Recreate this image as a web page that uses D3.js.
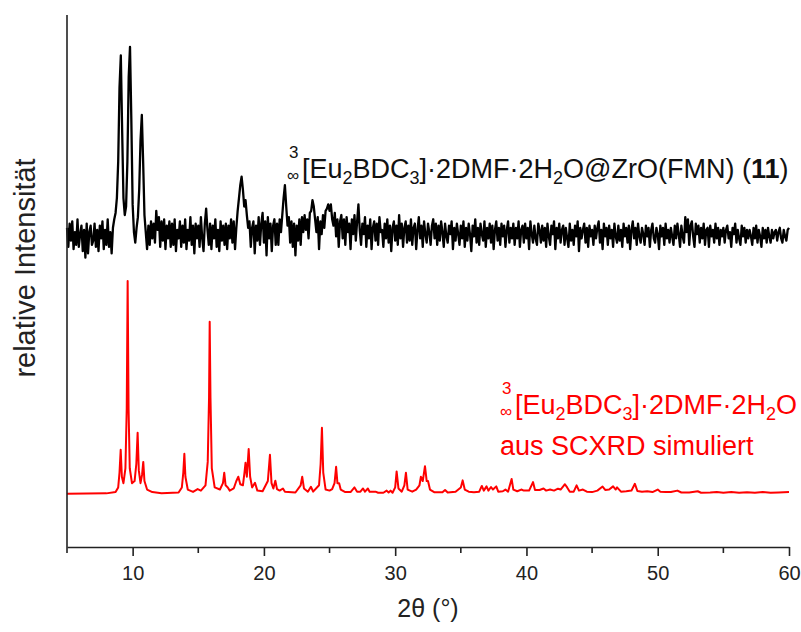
<!DOCTYPE html>
<html>
<head>
<meta charset="utf-8">
<script src="https://cdn.jsdelivr.net/npm/d3@7"></script>
<style>
  body { margin: 0; background: #fff; }
  text { font-family: Arial, "Liberation Sans", sans-serif; }
</style>
</head>
<body>
<div id="chart" style="width:801px;height:632px"></div>
<script>
// measured pattern: 2theta from 5 to 60 in 0.1 deg steps, intensity relative to its own baseline
const measStart = 5, measStep = 0.1;
const measIntensity = [
  4,-5,6,-2,7,-6,2,-4,8,-5,1,5,-7,3,-10,6,-8,2,5,-4,
  -2,6,-5,3,-7,5,-1,7,-6,3,-4,8,-5,2,-8,4,8,11,18,35,
  70,85,50,18,10,14,35,75,89,55,15,2,-3,4,9,22,45,57,35,10,
  2,-6,5,-4,7,-1,6,-3,12,3,9,-5,7,-2,8,-6,5,-1,7,-5,
  6,-4,8,-7,3,-1,7,-5,5,-3,8,-6,3,-2,9,-4,5,-8,6,-1,
  5,-5,9,-1,-7,6,13,3,-4,6,-6,5,-1,8,-5,3,-7,7,-2,5,
  -4,6,-6,5,-1,8,-3,7,-6,4,12,18,24,28,22,14,17,10,4,7,
  -5,4,7,-8,5,-2,9,-4,6,11,-3,7,-9,9,-1,6,-7,5,8,-4,
  6,-4,8,2,10,18,24,14,5,9,-3,7,-5,6,-9,5,-2,8,-4,9,
  2,10,3,8,-1,11,12,17,14,8,2,9,-6,7,1,10,4,12,13,15,
  12,15,8,5,11,0,8,-5,7,10,-1,8,-4,9,2,6,-6,8,1,10,
  -2,7,15,3,-4,6,1,9,-5,5,-1,8,-6,4,7,-2,6,-4,9,2,
  3,-5,6,-1,8,-3,5,-7,4,7,-2,5,-4,10,-1,6,-5,4,7,-3,
  5,-2,8,-4,4,6,-6,3,9,-1,5,-5,7,1,-3,6,2,-4,5,8,
  -1,6,-4,5,-2,7,2,-5,6,0,-3,5,1,7,-6,4,-2,6,1,-4,
  5,-1,7,-5,4,-2,6,1,-7,5,0,8,-3,4,-4,6,1,-2,7,-5,
  4,-1,6,-3,5,-6,3,7,-2,4,-4,6,0,5,-5,3,7,-3,4,-1,
  6,-4,4,-1,7,-5,3,5,-3,6,-1,4,-6,7,1,-3,5,-1,-4,6,
  3,-3,5,-2,4,-5,6,0,-4,5,1,7,-6,4,-1,6,-3,3,5,-4,
  4,-1,-5,6,-2,3,-4,5,0,7,-7,4,-1,3,6,-3,4,-5,5,0,
  3,-4,5,-1,4,7,-3,3,-6,6,0,4,-4,5,-1,3,-5,6,0,-3,
  5,-2,3,-5,6,0,4,-3,5,-6,3,7,-1,4,-4,6,0,-3,4,1,
  -4,5,0,4,-5,3,6,-1,-3,4,1,-6,5,0,4,-4,6,-1,3,-3,
  4,0,-4,5,-1,6,1,-5,5,0,-3,9,2,8,-4,5,7,0,-5,6,
  1,5,-3,4,-1,6,-4,3,4,-5,5,0,3,-3,6,-1,4,-4,3,0,
  4,-3,3,5,-1,2,-5,4,1,6,-3,3,-1,-4,5,0,4,-3,3,-1,
  3,0,-4,4,-1,5,-3,3,0,-5,4,-1,3,-3,4,0,-3,3,-1,2,
  3,-2,2,4,-1,-3,3,0,-2,3,4
];
const measOffset = 121;

// simulated pattern (SCXRD)
const simTheta = [
  5.0,8.0,8.7,8.9,9.0,9.09,9.18,9.3,9.45,9.55,9.62,9.69,9.78,9.95,10.15,10.28,10.38,10.47,10.6,10.72,
  10.81,10.9,11.1,11.5,12.2,13.5,13.75,13.86,13.94,14.02,14.2,14.6,14.95,15.2,15.55,15.72,15.82,15.87,15.93,16.03,
  16.25,16.65,16.88,16.98,17.08,17.25,17.4,17.7,17.9,18.05,18.2,18.4,18.52,18.6,18.7,18.84,18.95,19.1,19.32,19.5,
  19.9,20.3,20.46,20.58,20.72,20.87,21.0,21.2,21.45,21.6,22.4,22.8,22.92,23.05,23.35,23.58,23.75,24.2,24.32,24.42,
  24.52,24.7,25.0,25.2,25.38,25.5,25.6,25.73,25.85,26.2,26.6,26.9,27.1,27.35,27.55,27.7,27.92,28.05,28.5,28.7,
  29.1,29.35,29.5,29.65,29.8,30.0,30.11,30.25,30.5,30.7,30.82,30.95,31.3,31.6,31.85,31.96,32.1,32.27,32.4,32.5,
  32.65,33.0,33.6,33.8,34.0,34.6,35.0,35.14,35.3,35.6,36.0,36.4,36.6,36.75,36.96,37.1,37.3,37.45,37.7,37.85,
  38.2,38.4,38.6,38.87,39.0,39.3,39.6,39.8,40.2,40.5,40.65,41.0,41.3,41.5,41.8,42.1,42.4,42.6,42.8,42.93,
  43.1,43.3,43.6,43.82,44.0,44.3,44.6,45.0,45.4,45.8,46.0,46.3,46.6,46.8,46.9,47.2,47.6,48.0,48.26,48.45,
  48.8,49.2,49.6,50.0,50.2,50.6,51.0,51.5,51.8,52.4,53.05,53.3,54.0,54.5,55.0,55.6,56.2,56.8,57.4,58.0,
  58.6,59.2,60.0
];
const simIntensity = [
  0,0.2,0.8,3,10,20.7,8,5,12,40,100,40,12,5,6,14,28.7,11,5,9,
  15,6,2,0.8,0.3,0.6,3,10,18.8,8,2,0.9,2.2,1.5,4,15,45,80.8,45,12,
  3,2,5,9.9,4,3,1.5,2.5,6,8,4.5,4,10,14.6,8,21,8,3,5.2,1.5,
  1.2,6,18.3,5,2.5,6.1,2.2,1.5,2.5,1,0.6,4,8,2.5,1,3.3,1,4,14,31,
  10,2,1.5,2.2,5,12.7,5,5,2,0.8,0.8,3,1,1,2.5,1,2.5,1,1,0.5,
  0.5,1.5,0.6,1.5,0.5,3,10.5,2.5,1,4,9.9,2,1,2,4,8,6,13,6,6,
  2,0.7,0.7,1.8,0.6,1,3,6.3,2,1,0.7,1,3.7,1.5,3.5,1.5,3.2,2,3.5,1,
  1.2,2,1,7,2,1.2,2,1.5,1.5,5.5,1.8,1.8,2.5,1.5,2,1.5,2.4,2,3.5,4.5,
  3,1,1,4,1.5,2,1,0.8,1.5,3.4,1.8,2,3.5,2,3,1,1.2,1.5,4.7,1.3,
  1,1.2,0.8,2,1,0.8,0.8,1.5,0.6,0.6,1.2,0.5,0.6,0.9,0.5,0.8,0.5,0.7,0.5,0.8,
  0.5,0.6,0.8
];

const xTicks = [10, 20, 30, 40, 50, 60];
const xMinorTicks = [5, 15, 25, 35, 45, 55];

const width = 801, height = 632;
const margin = { top: 15, right: 12, bottom: 85, left: 67 };

const svg = d3.select("#chart").append("svg")
  .attr("width", width)
  .attr("height", height);

const x = d3.scaleLinear()
  .domain([5, 60])
  .range([margin.left, width - margin.right]);

const y = d3.scaleLinear()
  .domain([-25, 225])
  .range([height - margin.bottom, margin.top]);

const meas = measIntensity.map((v, i) => ({ t: measStart + i * measStep, v: v + measOffset }));
const sim = simTheta.map((t, i) => ({ t, v: simIntensity[i] }));

const line = d3.line()
  .x(d => x(d.t))
  .y(d => y(d.v));

svg.append("path")
  .datum(sim)
  .attr("fill", "none")
  .attr("stroke", "#ff0000")
  .attr("stroke-width", 2)
  .attr("stroke-linejoin", "round")
  .attr("d", line);

svg.append("path")
  .datum(meas)
  .attr("fill", "none")
  .attr("stroke", "#000")
  .attr("stroke-width", 2.3)
  .attr("stroke-linejoin", "round")
  .attr("d", line);

// axes
const xAxis = svg.append("g")
  .attr("transform", `translate(0,${height - margin.bottom})`)
  .call(d3.axisBottom(x).tickValues(xTicks).tickSize(9).tickPadding(10).tickSizeOuter(0));
xAxis.append("g")
  .selectAll("line")
  .data(xMinorTicks)
  .join("line")
  .attr("x1", d => x(d)).attr("x2", d => x(d))
  .attr("y1", 0).attr("y2", 6)
  .attr("stroke", "#222").attr("stroke-width", 1.6);
xAxis.select(".domain").attr("stroke", "#222").attr("stroke-width", 1.6);
xAxis.selectAll(".tick line").attr("stroke", "#222").attr("stroke-width", 1.6);
xAxis.selectAll(".tick text")
  .style("font-size", "20px")
  .style("font-family", "Arial, 'Liberation Sans', sans-serif")
  .attr("fill", "#222");

svg.append("line")
  .attr("x1", x(5)).attr("x2", x(5))
  .attr("y1", y(225)).attr("y2", y(-25))
  .attr("stroke", "#222").attr("stroke-width", 1.6);

// axis titles
svg.append("text")
  .attr("x", x(32.5))
  .attr("y", 617)
  .attr("text-anchor", "middle")
  .style("font-size", "25px")
  .attr("fill", "#222")
  .text("2θ (°)");

svg.append("text")
  .attr("transform", "translate(35,268) rotate(-90)")
  .attr("text-anchor", "middle")
  .style("font-size", "29px")
  .attr("fill", "#222")
  .text("relative Intensität");

// chemical labels with prescripts and subscripts
function chemLabel(px, py, parts, color) {
  const g = svg.append("g").attr("fill", color);
  g.append("text").attr("x", px + 2).attr("y", py - 20).style("font-size", "17px").text("3");
  g.append("text").attr("x", px).attr("y", py + 3).style("font-size", "17px").text("∞");
  const t = g.append("text").attr("x", px + 15).attr("y", py).style("font-size", "27px");
  let shift = 0;
  parts.forEach(([s, kind]) => {
    const ts = t.append("tspan").text(s);
    if (kind === "sub") {
      ts.style("font-size", "18px").attr("dy", 6 - shift);
      shift = 6;
    } else {
      ts.attr("dy", -shift);
      shift = 0;
      if (kind === "b") ts.style("font-weight", "bold");
    }
  });
}

const formula = [["[Eu"], ["2", "sub"], ["BDC"], ["3", "sub"], ["]·2DMF·2H"], ["2", "sub"], ["O"]];

chemLabel(287, 178, formula.concat([["@ZrO(FMN) ("], ["11", "b"], [")"]]), "#111");
chemLabel(500, 414, formula, "#ff0000");

svg.append("text")
  .attr("x", 500)
  .attr("y", 455)
  .style("font-size", "27px")
  .attr("fill", "#ff0000")
  .text("aus SCXRD simuliert");
</script>
</body>
</html>
